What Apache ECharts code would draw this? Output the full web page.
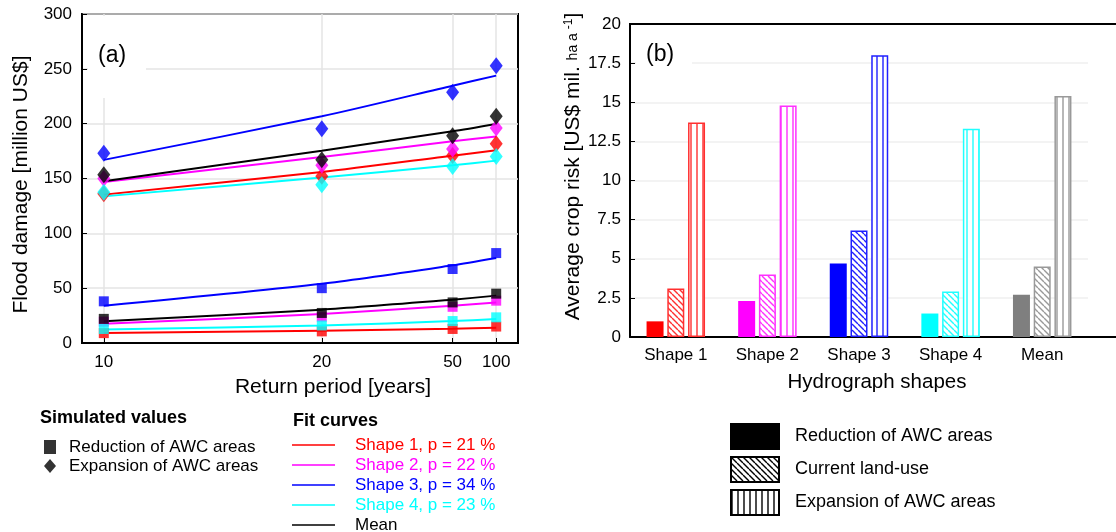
<!DOCTYPE html>
<html>
<head>
<meta charset="utf-8">
<script src="https://cdn.jsdelivr.net/npm/echarts@6/dist/echarts.min.js"></script>
<style>html,body{margin:0;padding:0;background:#fff}#c{width:1116px;height:532px}</style>
</head>
<body>
<div id="c"></div>
<script>
// ---------- data: panel (a) ----------
const returnPeriods = [10, 20, 50, 100];
const fitLabels = ['Shape 1, p = 21 %', 'Shape 2, p = 22 %', 'Shape 3, p = 34 %', 'Shape 4, p = 23 %', 'Mean'];
// simulated values, reduction of AWC areas (squares)
const redSim1 = [9, 10.6, 12.8, 15];
const redSim2 = [19.5, 24, 33, 38.6];
const redSim3 = [38, 50, 67.5, 82];
const redSim4 = [12.8, 16, 20, 23.4];
const redSimMean = [22, 27.4, 37, 45];
// simulated values, expansion of AWC areas (diamonds)
const expSim1 = [136, 152, 171, 181.8];
const expSim2 = [150, 162, 177, 196];
const expSim3 = [173, 195.4, 228.6, 252.9];
const expSim4 = [137.4, 144.4, 161, 170];
const expSimMean = [153.5, 167, 189, 206.7];
// fit curves, reduction
const redFit1 = [9.1, 11.2, 13, 14];
const redFit2 = [17.6, 26.4, 34, 37];
const redFit3 = [34, 54, 70.8, 77.5];
const redFit4 = [12.2, 16, 20, 21.9];
const redFitMean = [19.8, 30.4, 39.5, 43.2];
// fit curves, expansion
const expFit1 = [135.3, 155.9, 170.8, 175.7];
const expFit2 = [146.8, 169.6, 183.9, 188.4];
const expFit3 = [167, 206.7, 234.6, 243.8];
const expFit4 = [133.7, 151, 162, 166.3];
const expFitMean = [147.4, 175.4, 193, 199.7];

// ---------- data: panel (b) ----------
const barCategories = ['Shape 1', 'Shape 2', 'Shape 3', 'Shape 4', 'Mean'];
const riskReduction = [1.0, 2.3, 4.7, 1.5, 2.7];
const riskCurrent = [3.1, 4.0, 6.8, 2.9, 4.5];
const riskExpansion = [13.7, 14.8, 18.0, 13.3, 15.4];

// ---------- styling ----------
const FONT = 'Liberation Sans, Arial, sans-serif';
const lineColors = ['#ff0000', '#ff00ff', '#0000ff', '#00ffff', '#000000'];
const barSolid = ['#ff0000', '#ff00ff', '#0000ff', '#00ffff', '#7f7f7f'];
const barLine = ['#ff3030', '#ff30ff', '#2020ff', '#20ffff', '#999999'];

function pattern(color, kind) {
  const c = document.createElement('canvas');
  c.width = 6; c.height = 6;
  const g = c.getContext('2d');
  g.fillStyle = '#fff'; g.fillRect(0, 0, 6, 6);
  g.strokeStyle = color; g.lineWidth = 1.4;
  if (kind === 'diag') {
    for (let k = -1; k <= 1; k++) {
      g.beginPath(); g.moveTo(0, k * 6); g.lineTo(6, 6 + k * 6); g.stroke();
    }
  } else {
    g.beginPath(); g.moveTo(1, 0); g.lineTo(1, 6); g.stroke();
  }
  return { image: c, repeat: 'repeat' };
}

const probs = returnPeriods.map(t => 1 / t);
const pairs = arr => arr.map((v, i) => [probs[i], v]);

const redSims = [redSim1, redSim2, redSim3, redSim4, redSimMean];
const expSims = [expSim1, expSim2, expSim3, expSim4, expSimMean];
const redFits = [redFit1, redFit2, redFit3, redFit4, redFitMean];
const expFits = [expFit1, expFit2, expFit3, expFit4, expFitMean];

const series = [];
[redFits, expFits].forEach(group => {
  group.forEach((arr, k) => {
    series.push({
      type: 'line', name: fitLabels[k], xAxisIndex: 0, yAxisIndex: 0,
      data: pairs(arr), symbol: 'none', showSymbol: false, smooth: 0.25,
      lineStyle: { color: lineColors[k], width: 2 }, itemStyle: { color: lineColors[k] },
      z: 2
    });
  });
});
const drawOrder = [0, 1, 3, 2, 4];
function scatterData(group) {
  const d = [];
  drawOrder.forEach(k => {
    group[k].forEach((v, i) => d.push({ value: [probs[i], v], itemStyle: { color: lineColors[k] } }));
  });
  return d;
}
series.push({
  type: 'scatter', name: 'Reduction of AWC areas ', xAxisIndex: 0, yAxisIndex: 0,
  symbol: 'rect', symbolSize: 10, itemStyle: { color: '#000' }, data: scatterData(redSims), z: 3
});
series.push({
  type: 'scatter', name: 'Expansion of AWC areas ', xAxisIndex: 0, yAxisIndex: 0,
  symbol: 'diamond', symbolSize: [13, 17], itemStyle: { color: '#000' }, data: scatterData(expSims), z: 3
});
series.push({
  type: 'bar', name: 'Reduction of AWC areas', xAxisIndex: 1, yAxisIndex: 1,
  barWidth: 17, barGap: '22%',
  itemStyle: { color: '#000', borderColor: '#000', borderWidth: 1 },
  data: riskReduction.map((v, i) => ({ value: v, itemStyle: { color: barSolid[i], borderColor: barSolid[i], borderWidth: 0 } }))
});
series.push({
  type: 'bar', name: 'Current land-use', xAxisIndex: 1, yAxisIndex: 1,
  barWidth: 17, barGap: '22%',
  itemStyle: { color: pattern('#000', 'diag'), borderColor: '#000', borderWidth: 2 },
  data: riskCurrent.map((v, i) => ({ value: v, itemStyle: { color: pattern(barLine[i], 'diag'), borderColor: barLine[i], borderWidth: 1.5 } }))
});
series.push({
  type: 'bar', name: 'Expansion of AWC areas', xAxisIndex: 1, yAxisIndex: 1,
  barWidth: 17, barGap: '22%',
  itemStyle: { color: pattern('#000', 'vert'), borderColor: '#000', borderWidth: 2 },
  data: riskExpansion.map((v, i) => ({ value: v, itemStyle: { color: pattern(barLine[i], 'vert'), borderColor: barLine[i], borderWidth: 1.5 } }))
});

const chart = echarts.init(document.getElementById('c'), null, { renderer: 'canvas' });
const txt = { fontFamily: FONT, color: '#000' };
chart.setOption({
  animation: false,
  backgroundColor: '#fff',
  textStyle: { fontFamily: FONT },
  grid: [
    { left: 82, right: 598, top: 14, bottom: 189, show: true, borderColor: '#000', borderWidth: 2, backgroundColor: 'transparent' },
    { left: 630, right: 28, top: 24, bottom: 195 }
  ],
  xAxis: [
    {
      type: 'value', gridIndex: 0, inverse: true, min: 0.005, max: 0.105,
      axisLine: { show: true, lineStyle: { color: '#000', width: 2 } },
      axisTick: { show: true, inside: true, length: 5, customValues: probs, lineStyle: { color: '#000', width: 1 } },
      axisLabel: { customValues: probs, formatter: v => String(Math.round(1 / v)), fontSize: 17, margin: 11, ...txt },
      splitLine: { show: true, lineStyle: { color: '#e4e4e4', width: 1.5 } },
      name: 'Return period [years]', nameLocation: 'middle', nameGap: 34,
      nameTextStyle: { fontSize: 21, padding: [0, 0, 0, 66], ...txt }
    },
    {
      type: 'category', gridIndex: 1, data: barCategories,
      axisLine: { show: true, lineStyle: { color: '#000', width: 2 } },
      axisTick: { show: false },
      axisLabel: { fontSize: 17, margin: 10, ...txt },
      name: 'Hydrograph shapes', nameLocation: 'middle', nameGap: 35,
      nameTextStyle: { fontSize: 20.5, padding: [0, 0, 0, 36], ...txt }
    }
  ],
  yAxis: [
    {
      type: 'value', gridIndex: 0, min: 0, max: 300, interval: 50,
      axisLine: { show: true, lineStyle: { color: '#000', width: 2 } },
      axisTick: { show: true, inside: true, length: 5, lineStyle: { color: '#000' } },
      axisLabel: { fontSize: 17, margin: 10, ...txt },
      splitLine: { show: true, lineStyle: { color: '#e4e4e4', width: 1.5 } },
      name: 'Flood damage [million US$]', nameLocation: 'middle', nameGap: 50,
      nameTextStyle: { fontSize: 21, padding: [0, 12, 0, 0], ...txt }
    },
    {
      type: 'value', gridIndex: 1, min: 0, max: 20, interval: 2.5,
      axisLine: { show: true, lineStyle: { color: '#000', width: 2 } },
      axisTick: { show: true, inside: true, length: 5, lineStyle: { color: '#000' } },
      axisLabel: { fontSize: 17, margin: 9, ...txt },
      splitLine: { show: true, lineStyle: { color: '#efefef', width: 1.5 } },
      name: 'Average crop risk [US$ mil. {s|ha a }{sup|-1}]', nameLocation: 'middle', nameGap: 42,
      nameTextStyle: {
        fontSize: 21, ...txt, padding: [0, 0, 0, 28],
        rich: { s: { fontSize: 14, fontFamily: FONT, color: '#000' }, sup: { fontSize: 12, fontFamily: FONT, color: '#000', verticalAlign: 'top', padding: [0, 0, 9, 0] } }
      }
    }
  ],
  legend: [
    {
      orient: 'vertical', left: 44, top: 438.5, padding: 0, itemWidth: 12, itemHeight: 14, itemGap: 2,
      data: [{ name: 'Reduction of AWC areas ', icon: 'rect' }, { name: 'Expansion of AWC areas ', icon: 'diamond' }],
      textStyle: { fontSize: 17, padding: [0, 0, 0, 8], ...txt },
      selectedMode: false
    },
    {
      orient: 'vertical', left: 292, top: 436.5, height: 100, padding: 0, itemWidth: 43, itemHeight: 1.5, itemGap: 3,
      data: fitLabels.map((n, k) => ({ name: n, icon: 'rect', textStyle: { color: lineColors[k] } })),
      textStyle: { fontSize: 17, padding: [0, 0, 0, 15], fontFamily: FONT },
      selectedMode: false
    },
    {
      orient: 'vertical', left: 730, top: 423, padding: 0, itemWidth: 48, itemHeight: 25, itemGap: 6,
      data: ['Reduction of AWC areas', 'Current land-use', 'Expansion of AWC areas'].map(n => ({ name: n, icon: 'rect' })),
      textStyle: { fontSize: 18, padding: [0, 0, 0, 11], ...txt },
      selectedMode: false
    }
  ],
  graphic: [
    { type: 'rect', left: 88, top: 16, shape: { width: 58, height: 82 }, style: { fill: '#fff' }, z: 5, silent: true },
    { type: 'text', left: 98, top: 44, style: { text: '(a)', fontSize: 23, fontFamily: FONT, fill: '#000' }, z: 6 },
    { type: 'rect', left: 636, top: 26, shape: { width: 56, height: 62 }, style: { fill: '#fff' }, z: 5, silent: true },
    { type: 'text', left: 646, top: 43, style: { text: '(b)', fontSize: 23, fontFamily: FONT, fill: '#000' }, z: 6 },
    { type: 'line', shape: { x1: 629, y1: 24, x2: 1116, y2: 24 }, style: { stroke: '#000', lineWidth: 2 }, z: 6 },
    { type: 'line', shape: { x1: 1086, y1: 337, x2: 1116, y2: 337 }, style: { stroke: '#000', lineWidth: 2 }, z: 6 },
    { type: 'text', left: 40, top: 409, style: { text: 'Simulated values', fontSize: 18, fontWeight: 'bold', fontFamily: FONT, fill: '#000' } },
    { type: 'text', left: 293, top: 412, style: { text: 'Fit curves', fontSize: 18, fontWeight: 'bold', fontFamily: FONT, fill: '#000' } }
  ],
  series: series
});
</script>
</body>
</html>
